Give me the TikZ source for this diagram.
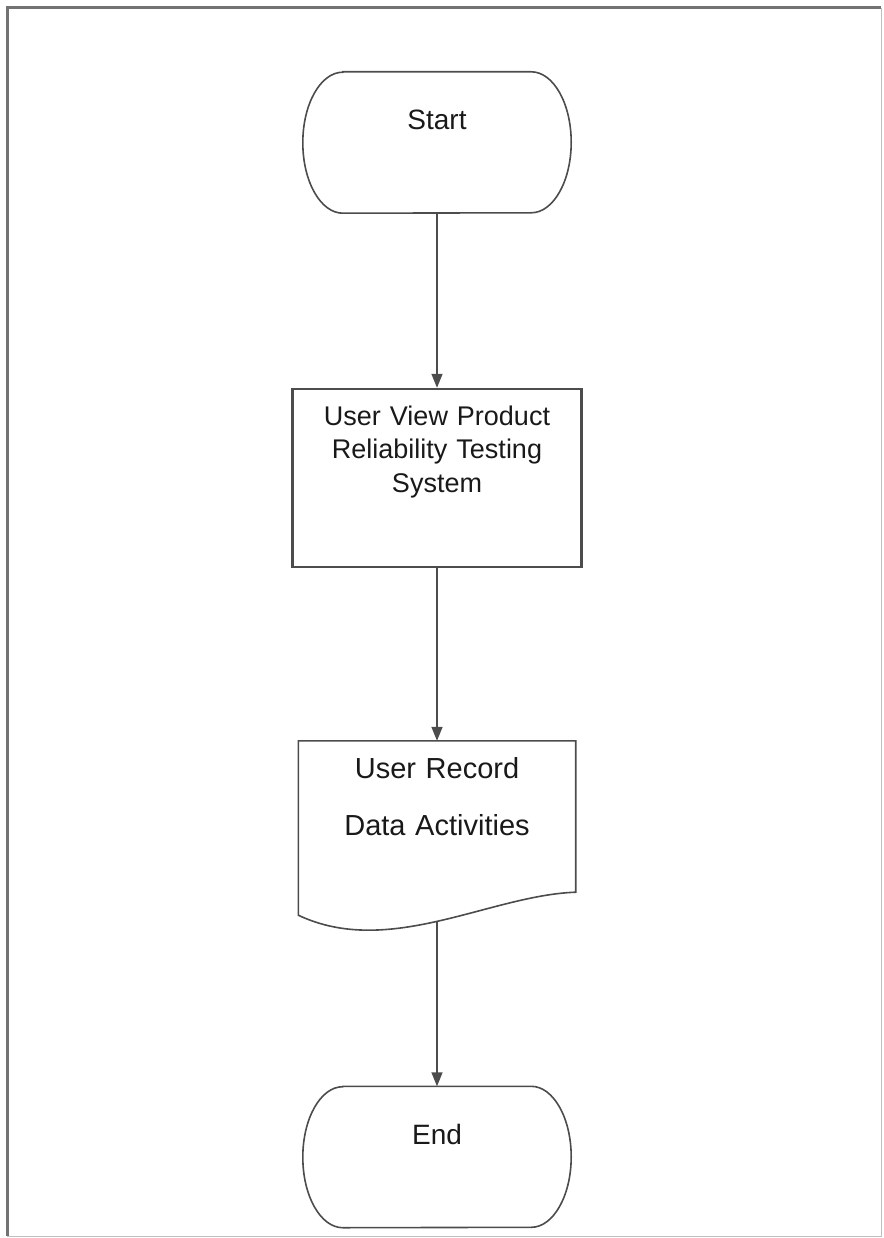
\documentclass[tikz,border=0pt]{standalone}
\usepackage{fontspec}
\setmainfont{Liberation Sans}
\usetikzlibrary{arrows.meta,calc}
\newcommand\flowx{437}
\newcommand\pagew{883}
\newcommand\pageh{1238}
\newcommand\wavedrop{23}
\newcommand\capx{40}
\newcommand\capy{70.5}
% terminal outline with elliptic ends round a named node
\newcommand\termoutline[1]{\draw[outline] ($(#1.north west)+(\capx,0)$) -- ($(#1.north east)+(-\capx,0)$)
	arc[start angle=-90, end angle=90, x radius=\capx, y radius=\capy] -- ($(#1.south west)+(\capx,0)$)
	arc[start angle=90, end angle=270, x radius=\capx, y radius=\capy] -- cycle;}

\begin{document}
\begin{tikzpicture}[x=1pt, y=-1pt, >={Triangle[length=14pt,width=11pt]}]
	\tikzstyle{every node}=[font=\fontsize{27}{33.5}\selectfont, text=black!90]
	\tikzstyle{outline}=[draw=black!70, line width=1.6pt]
	\tikzstyle{term}=[rectangle, font=\fontsize{28}{33.5}\selectfont, minimum width=268pt, inner sep=0pt, text height=58pt, text depth=83pt]
	\tikzstyle{procbox}=[outline, line width=2.4pt, rectangle, text width=289pt, align=center, inner sep=0pt, text height=36pt, text depth=142pt]
	\tikzstyle{docbox}=[rectangle, font=\fontsize{29}{34}\selectfont, text width=277pt, align=center, inner sep=0pt, text height=37pt, text depth=114pt]
	\tikzstyle{flow}=[->, draw=black!70, line width=1.5pt]
	
	%page
	\useasboundingbox (0,0) rectangle (\pagew,\pageh);
	\draw[black!55, line width=3pt] (7,1236) -- (7,8) -- (881,8);
	\draw[black!25, line width=1pt] (881,8) -- (881,1236) -- (7,1236);
	
	%terminals and steps
	\node[term] (start) at (\flowx,142.5) {Start};
	\node[procbox] (view) at (\flowx,478) {User View Product\\Reliability Testing\\System};
	\node[docbox] (rec) at (\flowx,816.5) {User Record\\[23pt]Data Activities};
	\node[term] (stop) at (\flowx,1157) {End};
	\termoutline{start}
	\termoutline{stop}
	
	%document outline with wavy foot
	\draw[outline] (rec.north west) -- (rec.north east) -- (rec.south east)
		.. controls +(-86,3) and +(91,43) .. ($(rec.south west)+(0,\wavedrop)$) -- cycle;
	\coordinate (recfoot) at ($(rec.south)+(0,29)$);
	
	%arrows
	\draw[flow] (start) -- (view);
	\draw[flow] (view) -- (rec);
	\draw[flow] (recfoot) -- (stop);
\end{tikzpicture}
\end{document}
